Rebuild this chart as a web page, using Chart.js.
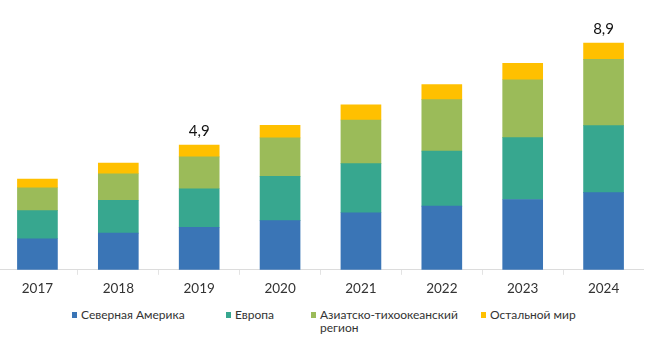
<!DOCTYPE html>
<html lang="ru">
<head>
<meta charset="utf-8">
<script src="https://cdn.jsdelivr.net/npm/chart.js@4"></script>
<style>
  body { margin: 0; background: #fff; width: 649px; height: 348px; overflow: hidden; position: relative; font-family: Lato, "Open Sans", sans-serif; }
  #wrap { position: absolute; left: -3px; top: 0; width: 647px; height: 303px; }
  #legend { position: absolute; top: 308px; left: 0; width: 649px; font-size: 12px; color: #333; font-family: Lato, sans-serif; }
  .item { position: absolute; top: 0; line-height: 13px; white-space: nowrap; }
  .item i { position: absolute; left: -9px; top: 4px; width: 5px; height: 6px; }
</style>
</head>
<body>
<div id="wrap"><canvas id="marketChart"></canvas></div>
<div id="legend"></div>
<script>
// данные
const years = ["2017", "2018", "2019", "2020", "2021", "2022", "2023", "2024"];
const northAmerica = [1.22, 1.44, 1.67, 1.93, 2.24, 2.5, 2.76, 3.03];
const europe = [1.1, 1.29, 1.51, 1.74, 1.93, 2.16, 2.43, 2.63];
const asiaPacific = [0.9, 1.04, 1.25, 1.51, 1.71, 2.02, 2.27, 2.6];
const restOfWorld = [0.34, 0.42, 0.47, 0.49, 0.6, 0.59, 0.64, 0.64];
const totalLabels = ["", "", "4,9", "", "", "", "", "8,9"];

const seriesNames = ["Северная Америка", "Европа", ["Азиатско-тихоокеанский", "регион"], "Остальной мир"];
const colors = ["#3a75b6", "#37a78f", "#9bbb59", "#ffc000"];
const legendX = [81, 235, 320, 490];

// подписи сумм над столбцами
const totalsPlugin = {
  id: "totals",
  afterDatasetsDraw(chart) {
    const c = chart.ctx;
    const y = chart.scales.y;
    c.save();
    c.font = "15px Lato";
    c.fillStyle = "#111";
    c.textAlign = "center";
    c.textBaseline = "middle";
    years.forEach((yr, i) => {
      if (!totalLabels[i]) return;
      const sum = northAmerica[i] + europe[i] + asiaPacific[i] + restOfWorld[i];
      const x = chart.getDatasetMeta(0).data[i].x;
      c.fillText(totalLabels[i], x, y.getPixelForValue(sum) - 14);
    });
    c.restore();
  },
};

const ctx = document.getElementById("marketChart").getContext("2d");
const marketChart = new Chart(ctx, {
  type: "bar",
  data: {
    labels: years,
    datasets: [northAmerica, europe, asiaPacific, restOfWorld].map((d, i) => ({
      label: Array.isArray(seriesNames[i]) ? seriesNames[i].join(" ") : seriesNames[i],
      data: d,
      backgroundColor: colors[i],
      borderWidth: 0,
      barThickness: 40,
    })),
  },
  options: {
    responsive: true,
    maintainAspectRatio: false,
    animation: false,
    layout: { padding: 0 },
    plugins: { legend: { display: false }, tooltip: { enabled: false } },
    scales: {
      x: {
        stacked: true,
        grid: { display: true, drawOnChartArea: false, offset: true, color: "#e3e3e3", tickLength: 5 },
        border: { color: "#dcdcdc" },
        ticks: { color: "#333", font: { family: "Lato", size: 13.5 }, padding: 6 },
      },
      y: { stacked: true, display: false, min: 0, max: 10.59 },
    },
  },
  plugins: [totalsPlugin],
});

// легенда
const legend = document.getElementById("legend");
seriesNames.forEach((name, i) => {
  const el = document.createElement("div");
  el.className = "item";
  el.style.left = legendX[i] + "px";
  el.innerHTML = '<i style="background:' + colors[i] + '"></i>' + (Array.isArray(name) ? name.join("<br>") : name);
  legend.appendChild(el);
});
</script>
</body>
</html>
